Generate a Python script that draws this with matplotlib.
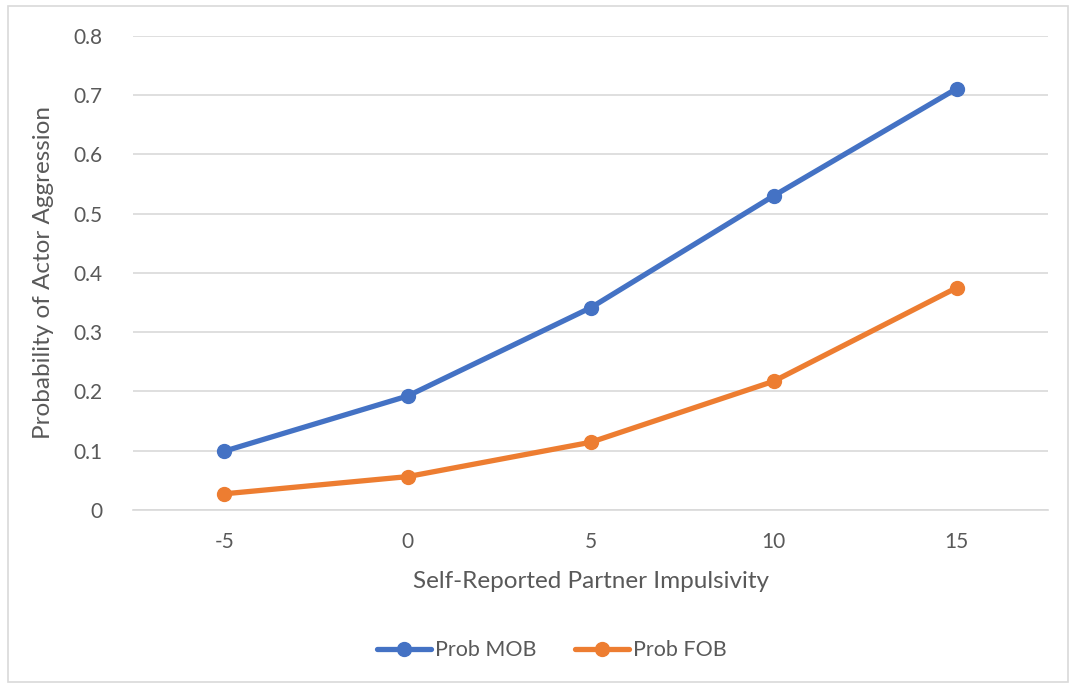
import matplotlib.pyplot as plt
from matplotlib.patches import Rectangle

# data
categories = ["-5", "0", "5", "10", "15"]
prob_mob = [0.099, 0.192, 0.341, 0.530, 0.711]
prob_fob = [0.027, 0.056, 0.114, 0.217, 0.375]
y_ticks = [0, 0.1, 0.2, 0.3, 0.4, 0.5, 0.6, 0.7, 0.8]
y_labels = ["0", "0.1", "0.2", "0.3", "0.4", "0.5", "0.6", "0.7", "0.8"]

TEXT = "#595959"
plt.rcParams["font.family"] = ["Lato", "DejaVu Sans"]

fig = plt.figure(figsize=(10.72, 6.88), dpi=100)
ax = fig.add_axes([0.124, 0.259, 0.854, 0.689])

x = range(len(categories))
ax.plot(x, prob_mob, color="#4472C4", lw=3.8, marker="o", ms=10,
        solid_capstyle="round", label="Prob MOB")
ax.plot(x, prob_fob, color="#ED7D31", lw=3.8, marker="o", ms=10,
        solid_capstyle="round", label="Prob FOB")

ax.set_xlim(-0.5, len(categories) - 0.5)
ax.set_ylim(0, 0.8)
ax.set_xticks(list(x))
ax.set_xticklabels(categories)
ax.set_yticks(y_ticks)
ax.set_yticklabels(y_labels)
ax.tick_params(length=0, labelsize=15, colors=TEXT, pad=16)
ax.tick_params(axis="y", pad=22)

# horizontal gridlines like Excel
ax.grid(axis="y", color="#D9D9D9", lw=1.2)
ax.set_axisbelow(True)
for side in ["top", "right", "left"]:
    ax.spines[side].set_visible(False)
ax.spines["bottom"].set_color("#D9D9D9")
ax.spines["bottom"].set_linewidth(1.2)

ax.set_xlabel("Self-Reported Partner Impulsivity", fontsize=17.5, color=TEXT, labelpad=14)
ax.set_ylabel("Probability of Actor Aggression", fontsize=17.5, color=TEXT, labelpad=14)

leg = fig.legend(loc="center", bbox_to_anchor=(0.515, 0.055), ncol=2, frameon=False,
                 fontsize=15.5, handlelength=2.5, columnspacing=1.8, handletextpad=0.2)
for t in leg.get_texts():
    t.set_color(TEXT)

# light border round the whole chart
fig.patches.append(Rectangle((0.007, 0.008), 0.989, 0.983, transform=fig.transFigure,
                             fill=False, edgecolor="#D9D9D9", lw=1.2))

fig.savefig("out.png", dpi=100)
